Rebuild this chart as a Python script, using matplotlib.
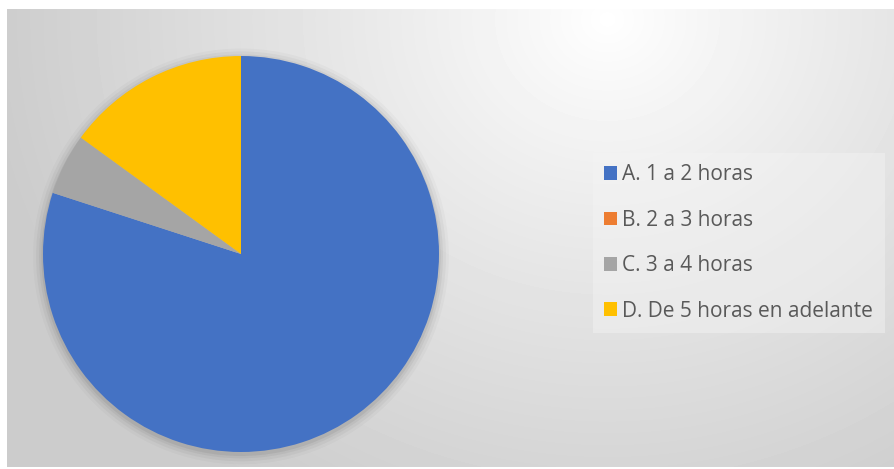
import numpy as np
import matplotlib
matplotlib.use('Agg')
from matplotlib import pyplot as plt
from matplotlib.patches import Patch, Circle

# datos de la grafica
categorias = ['A. 1 a 2 horas', 'B. 2 a 3 horas', 'C. 3 a 4 horas', 'D. De 5 horas en adelante']
valores = [80, 0, 5, 15]
colores = ['#4472C4', '#ED7D31', '#A5A5A5', '#FFC000']

plt.rcParams['font.family'] = ['Open Sans', 'DejaVu Sans']

fig = plt.figure(figsize=(8.94, 4.69), dpi=100)
fig.patch.set_facecolor('white')

# fondo con degradado radial (area del grafico)
bg = fig.add_axes([7/894, 2/469, 887/894, 458/469])
h, w = 458, 887
yy, xx = np.mgrid[0:h, 0:w]
d = np.sqrt(((xx - 600) / 620.0)**2 + ((yy - 10) / 560.0)**2)
d = np.clip(d, 0, 1)
img = 1.0 - 0.2 * d**0.9
bg.imshow(img, cmap='gray', vmin=0, vmax=1, aspect='auto', interpolation='bilinear')
bg.axis('off')

# pastel
ax = fig.add_axes([43/894, 17/469, 396/894, 396/469])
ax.set_aspect('equal')
ax.axis('off')
ax.patch.set_alpha(0)
# sombra suave
for r, a in [(1.05, 0.025), (1.035, 0.035), (1.02, 0.045), (1.008, 0.06)]:
	ax.add_patch(Circle((0, -0.012), r, color='black', alpha=a, lw=0, zorder=0, clip_on=False))
wedges, _ = ax.pie(valores, colors=colores, startangle=90, counterclock=False, radius=1.0,
	wedgeprops=dict(linewidth=0))
for wd in wedges:
	wd.set_clip_on(False)
ax.set_xlim(-1, 1)
ax.set_ylim(-1, 1)

handles = [Patch(facecolor=c, edgecolor='none') for c in colores]
leg = fig.legend(handles, categorias, loc='upper left', bbox_to_anchor=(593/894, 1 - 153/469),
	frameon=True, fontsize=15, handlelength=0.62, handleheight=0.62, handletextpad=0.24,
	labelspacing=1.17, borderpad=0.55, labelcolor='#595959', borderaxespad=0)
leg.get_frame().set_facecolor('#f4f4f4')
leg.get_frame().set_alpha(0.45)
leg.get_frame().set_edgecolor('none')
leg.get_frame().set_boxstyle('square', pad=0)

fig.savefig('out.png', dpi=100)
